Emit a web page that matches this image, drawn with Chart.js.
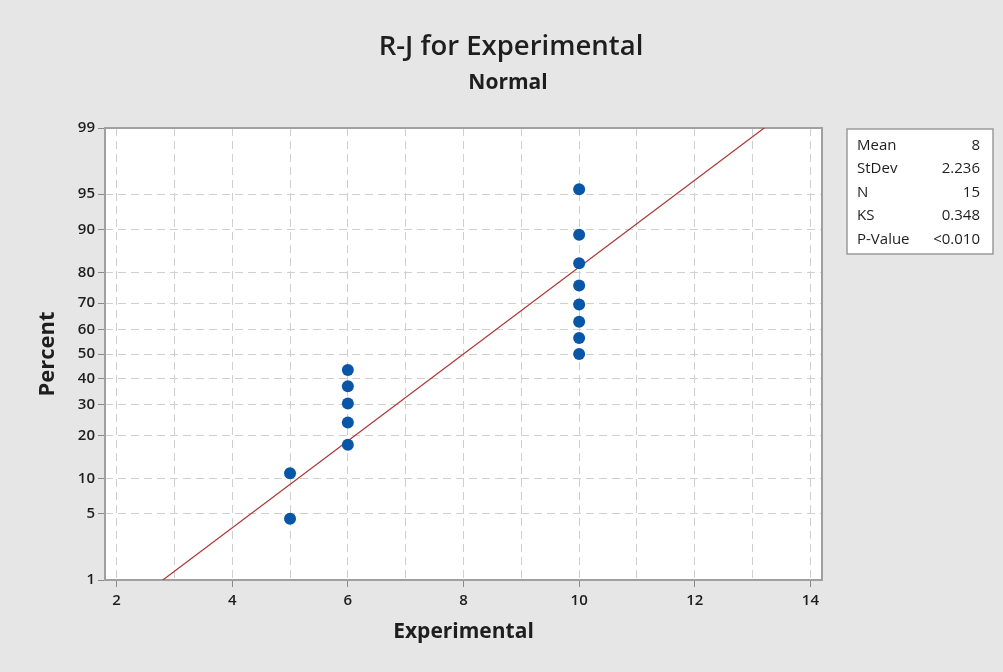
<!DOCTYPE html>
<html><head><meta charset="utf-8">
<script src="https://cdn.jsdelivr.net/npm/chart.js@4"></script>
<style>html,body{margin:0;padding:0;background:#e6e6e6;overflow:hidden}</style>
</head><body>
<canvas id="c" width="1003" height="672"></canvas>
<script>
// ---- data ----
const xValues = [5, 5, 6, 6, 6, 6, 6, 10, 10, 10, 10, 10, 10, 10, 10];
const percentValues = [4.5, 11.0, 17.5, 24.0, 30.5, 37.0, 43.5, 50.0, 56.5, 63.0, 69.5, 76.0, 82.5, 89.0, 95.5];
const fitLineX = [2.8, 13.2];
const fitLinePercent = [1, 99];
const percentTicks = [1, 5, 10, 20, 30, 40, 50, 60, 70, 80, 90, 95, 99];
const xTicks = [2, 3, 4, 5, 6, 7, 8, 9, 10, 11, 12, 13, 14];
const statLabels = ['Mean', 'StDev', 'N', 'KS', 'P-Value'];
const statValues = ['8', '2.236', '15', '0.348', '<0.010'];
const titleText = 'R-J for Experimental';
const subtitleText = 'Normal';

// normal probability scale: percent -> standard normal quantile (Acklam)
function probit(p) {
  const a = [-3.969683028665376e+01, 2.209460984245205e+02, -2.759285104469687e+02, 1.383577518672690e+02, -3.066479806614716e+01, 2.506628277459239e+00];
  const b = [-5.447609879822406e+01, 1.615858368580409e+02, -1.556989798598866e+02, 6.680131188771972e+01, -1.328068155288572e+01];
  const c = [-7.784894002430293e-03, -3.223964580411365e-01, -2.400758277161838e+00, -2.549732539343734e+00, 4.374664141464968e+00, 2.938163982698783e+00];
  const d = [7.784695709041462e-03, 3.224671290700398e-01, 2.445134137142996e+00, 3.754408661907416e+00];
  const pl = 0.02425, ph = 1 - pl;
  let q, r;
  if (p < pl) { q = Math.sqrt(-2 * Math.log(p)); return (((((c[0]*q+c[1])*q+c[2])*q+c[3])*q+c[4])*q+c[5]) / ((((d[0]*q+d[1])*q+d[2])*q+d[3])*q+1); }
  if (p <= ph) { q = p - 0.5; r = q*q; return (((((a[0]*r+a[1])*r+a[2])*r+a[3])*r+a[4])*r+a[5])*q / (((((b[0]*r+b[1])*r+b[2])*r+b[3])*r+b[4])*r+1); }
  q = Math.sqrt(-2 * Math.log(1 - p));
  return -(((((c[0]*q+c[1])*q+c[2])*q+c[3])*q+c[4])*q+c[5]) / ((((d[0]*q+d[1])*q+d[2])*q+d[3])*q+1);
}
const z = pc => probit(pc / 100);

const FONT = '"Open Sans", "Noto Sans", sans-serif';
const GRID = '#cfcfcf';
const TXT = '#1e1e1e';

const decor = {
  id: 'decor',
  beforeDraw(chart) {
    const {ctx, chartArea: a} = chart;
    ctx.save();
    ctx.fillStyle = '#e6e6e6';
    ctx.fillRect(0, 0, chart.width, chart.height);
    ctx.fillStyle = '#ffffff';
    ctx.fillRect(a.left, a.top, a.right - a.left, a.bottom - a.top);
    // titles
    ctx.fillStyle = TXT;
    ctx.textAlign = 'center';
    ctx.textBaseline = 'middle';
    ctx.font = '600 27.5px ' + FONT;
    ctx.fillText(titleText, 511, 47);
    ctx.font = 'bold 21px ' + FONT;
    ctx.fillText(subtitleText, 508, 83);
    // stats box
    ctx.fillStyle = '#ffffff';
    ctx.fillRect(847, 129, 146, 125);
    ctx.strokeStyle = '#9a9a9a';
    ctx.lineWidth = 1.5;
    ctx.strokeRect(847, 129, 146, 125);
    ctx.fillStyle = TXT;
    ctx.font = '500 15px ' + FONT;
    const ys = [146, 169, 193, 216, 240];
    statLabels.forEach((t, i) => {
      ctx.textAlign = 'left';
      ctx.fillText(t, 857, ys[i]);
      ctx.textAlign = 'right';
      ctx.fillText(statValues[i], 980, ys[i]);
    });
    ctx.restore();
  },
  beforeDatasetsDraw(chart) {
    const {ctx, chartArea: a} = chart;
    ctx.save();
    ctx.strokeStyle = '#a0a0a0';
    ctx.lineWidth = 2;
    ctx.strokeRect(a.left, a.top, a.right - a.left, a.bottom - a.top);
    ctx.restore();
  }
};

new Chart(document.getElementById('c'), {
  data: {
    datasets: [
      {
        type: 'scatter',
        label: 'Experimental',
        data: xValues.map((x, i) => ({x: x, y: z(percentValues[i])})),
        pointRadius: 6,
        pointHoverRadius: 6,
        backgroundColor: '#0a56a6',
        borderWidth: 0
      },
      {
        type: 'line',
        label: 'Fit',
        data: fitLineX.map((x, i) => ({x: x, y: z(fitLinePercent[i])})),
        borderColor: '#b03434',
        borderWidth: 1.2,
        pointRadius: 0,
        fill: false,
        tension: 0
      }
    ]
  },
  options: {
    responsive: false,
    animation: false,
    devicePixelRatio: 1,
    layout: {padding: {left: 30, right: 181, top: 128, bottom: 22}},
    plugins: {legend: {display: false}, tooltip: {enabled: false}, title: {display: false}},
    scales: {
      x: {
        type: 'linear',
        position: 'bottom',
        min: 1.8,
        max: 14.2,
        afterBuildTicks: s => { s.ticks = xTicks.map(v => ({value: v})); },
        afterFit: s => { s.height = 70; },
        ticks: {
          autoSkip: false,
          maxRotation: 0,
          padding: 5,
          color: TXT,
          font: {family: FONT, size: 15, weight: '600'},
          callback: (v, i) => (xTicks[i] % 2 === 0 ? String(xTicks[i]) : '')
        },
        grid: {
          color: GRID,
          lineWidth: 1,
          tickLength: 7,
          tickColor: ctx => (xTicks[ctx.index] % 2 === 0 ? '#8a8a8a' : 'rgba(0,0,0,0)'),
          tickBorderDash: []
        },
        border: {display: false, dash: [8, 5]},
        title: {display: true, text: 'Experimental', color: TXT, font: {family: FONT, size: 21, weight: 'bold'}, padding: {top: 0, bottom: 5}}
      },
      y: {
        type: 'linear',
        position: 'left',
        min: z(1),
        max: z(99),
        afterBuildTicks: s => { s.ticks = percentTicks.map(p => ({value: z(p)})); },
        afterFit: s => { s.width = 75; },
        ticks: {
          autoSkip: false,
          padding: 3,
          color: TXT,
          font: {family: FONT, size: 15, weight: '600'},
          callback: (v, i) => String(percentTicks[i])
        },
        grid: {
          color: ctx => ((ctx.index === 0 || ctx.index === percentTicks.length - 1) ? 'rgba(0,0,0,0)' : GRID),
          lineWidth: 1,
          tickLength: 7,
          tickColor: '#8a8a8a',
          tickBorderDash: []
        },
        border: {display: false, dash: [8, 5]},
        title: {display: true, text: 'Percent', color: TXT, font: {family: FONT, size: 22, weight: 'bold'}, padding: {top: 5, bottom: 0}}
      }
    }
  },
  plugins: [decor]
});
</script>
</body></html>
